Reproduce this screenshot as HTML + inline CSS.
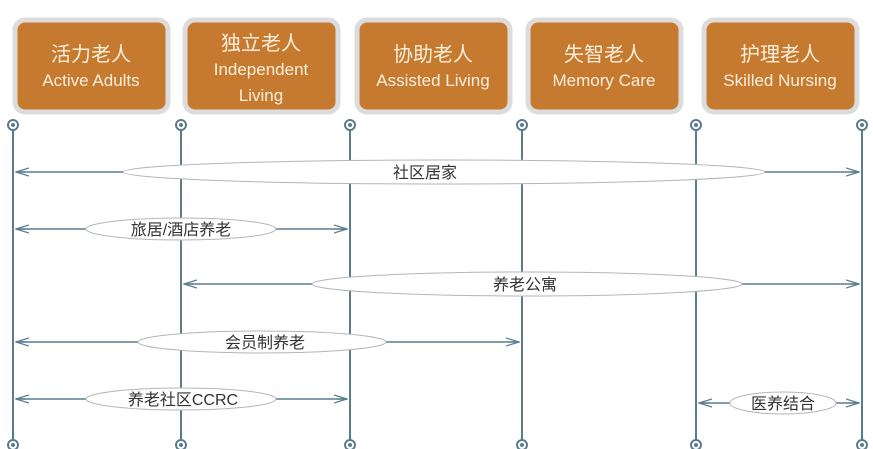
<!DOCTYPE html>
<html><head><meta charset="utf-8"><style>
body{margin:0;background:#fff;}
svg{display:block;font-family:"Liberation Sans","Noto Sans CJK SC",sans-serif;}
</style></head><body>
<svg width="873" height="449" viewBox="0 0 873 449">
<defs>
<marker id="a" markerWidth="14" markerHeight="10" refX="13" refY="5" orient="auto-start-reverse" markerUnits="userSpaceOnUse">
<path d="M0,1 L13,5 L0,9 M13,5 L3,5" fill="none" stroke="#5a7d8e" stroke-width="1.2"/>
</marker>
</defs>
<g fill="#c67a30" stroke="#dcdcdc" stroke-width="5">
<rect x="15" y="20" width="153" height="92" rx="10"/>
<rect x="185" y="20" width="153" height="92" rx="10"/>
<rect x="357" y="20" width="153" height="92" rx="10"/>
<rect x="528" y="20" width="153" height="92" rx="10"/>
<rect x="704" y="20" width="153" height="92" rx="10"/>
</g>
<g fill="#fbeedd" text-anchor="middle">
<text x="91" y="61" font-size="20">活力老人</text>
<text x="91" y="86" font-size="17">Active Adults</text>
<text x="261" y="50" font-size="20">独立老人</text>
<text x="261" y="75" font-size="17">Independent</text>
<text x="261" y="101" font-size="17">Living</text>
<text x="433" y="61" font-size="20">协助老人</text>
<text x="433" y="86" font-size="17">Assisted Living</text>
<text x="604" y="61" font-size="20">失智老人</text>
<text x="604" y="86" font-size="17">Memory Care</text>
<text x="780" y="61" font-size="20">护理老人</text>
<text x="780" y="86" font-size="17">Skilled Nursing</text>
</g>
<g stroke="#5a7d8e" stroke-width="2" fill="#fff">
<line x1="13" y1="129" x2="13" y2="440"/><line x1="181" y1="129" x2="181" y2="440"/>
<line x1="350" y1="129" x2="350" y2="440"/><line x1="522" y1="129" x2="522" y2="440"/>
<line x1="696" y1="129" x2="696" y2="440"/><line x1="862" y1="129" x2="862" y2="440"/>
<circle cx="13" cy="125" r="5"/><circle cx="181" cy="125" r="5"/><circle cx="350" cy="125" r="5"/>
<circle cx="522" cy="125" r="5"/><circle cx="696" cy="125" r="5"/><circle cx="862" cy="125" r="5"/>
<circle cx="13" cy="445" r="5"/><circle cx="181" cy="445" r="5"/><circle cx="350" cy="445" r="5"/>
<circle cx="522" cy="445" r="5"/><circle cx="696" cy="445" r="5"/><circle cx="862" cy="445" r="5"/>
</g>
<g fill="#5a7d8e"><circle cx="13" cy="125" r="2"/><circle cx="181" cy="125" r="2"/><circle cx="350" cy="125" r="2"/><circle cx="522" cy="125" r="2"/><circle cx="696" cy="125" r="2"/><circle cx="862" cy="125" r="2"/>
<circle cx="13" cy="445" r="2"/><circle cx="181" cy="445" r="2"/><circle cx="350" cy="445" r="2"/><circle cx="522" cy="445" r="2"/><circle cx="696" cy="445" r="2"/><circle cx="862" cy="445" r="2"/></g>
<g stroke="#5a7d8e" stroke-width="1.5" marker-start="url(#a)" marker-end="url(#a)">
<line x1="16" y1="172" x2="859" y2="172"/>
<line x1="16" y1="229" x2="347" y2="229"/>
<line x1="184" y1="284" x2="859" y2="284"/>
<line x1="16" y1="342" x2="519" y2="342"/>
<line x1="16" y1="399" x2="347" y2="399"/>
<line x1="699" y1="403" x2="859" y2="403"/>
</g>
<g fill="#fff" stroke="#b5b5b5" stroke-width="1">
<ellipse cx="444" cy="172" rx="321" ry="12"/>
<ellipse cx="181" cy="229" rx="95" ry="11"/>
<ellipse cx="527" cy="284" rx="215" ry="12"/>
<ellipse cx="262" cy="342" rx="124" ry="11"/>
<ellipse cx="181" cy="399" rx="95" ry="11"/>
<ellipse cx="783" cy="403" rx="53" ry="11"/>
</g>
<g fill="#333" font-size="16" text-anchor="middle">
<text x="425" y="178">社区居家</text>
<text x="181" y="235">旅居/酒店养老</text>
<text x="525" y="290">养老公寓</text>
<text x="265" y="348">会员制养老</text>
<text x="183" y="405">养老社区CCRC</text>
<text x="783" y="409">医养结合</text>
</g>
</svg>
</body></html>
